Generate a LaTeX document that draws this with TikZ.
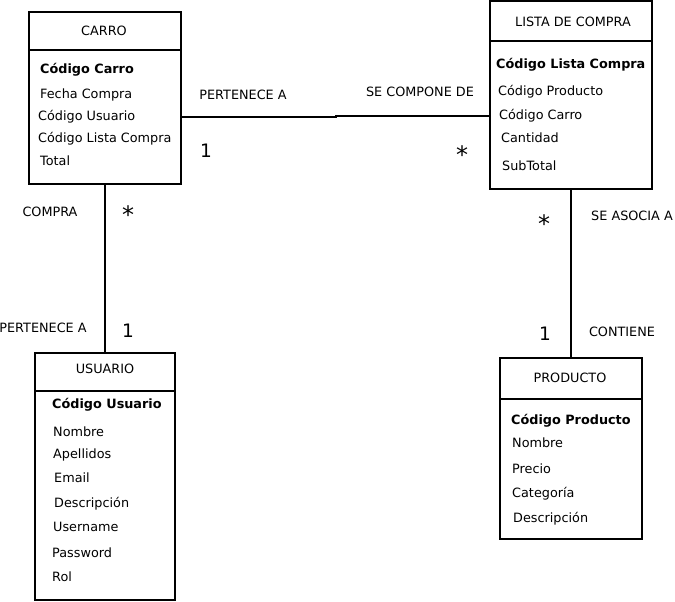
\documentclass[tikz,border=0pt]{standalone}
\usepackage{fontspec}
\setmainfont{DejaVu Sans}
\begin{document}
\begin{tikzpicture}[x=1pt,y=-1pt,
  box/.style={draw,line width=2pt,inner sep=0pt,outer sep=0pt,anchor=north west},
  hdr/.style={font=\fontsize{12.8}{14}\selectfont},
  attr/.style={anchor=base west,inner sep=0pt,yshift=-1pt,font=\fontsize{12.8}{14}\selectfont},
  key/.style={attr,font=\fontsize{12.8}{14}\selectfont\bfseries},
  rel/.style={inner sep=0pt,font=\fontsize{12.8}{14}\selectfont},
  mult/.style={inner sep=0pt,font=\fontsize{18.5}{20}\selectfont},
  star/.style={inner sep=0pt,font=\fontsize{24}{26}\selectfont},
  conn/.style={line width=2pt}]
\useasboundingbox (0,0) rectangle (675,602);
% CARRO
\node[box,minimum width=152pt,minimum height=38pt] (carrohdr) at (29,12) {};
\node[box,minimum width=152pt,minimum height=134pt] (carrobody) at (29,50) {};
\node[hdr] (carrot) at (104,31) {CARRO};
\node[key] (c1) at (40,72.5) {Código Carro};
\node[attr] (c2) at (40,97.5) {Fecha Compra};
\node[attr] (c3) at (38,119.5) {Código Usuario};
\node[attr] (c4) at (38,141.5) {Código Lista Compra};
\node[attr] (c5) at (40,164.5) {Total};
% LISTA DE COMPRA
\node[box,minimum width=162pt,minimum height=40pt] (listahdr) at (490,1) {};
\node[box,minimum width=162pt,minimum height=148pt] (listabody) at (490,41) {};
\node[hdr] (listat) at (573,22) {LISTA DE COMPRA};
\node[key] (l1) at (496,67.5) {Código Lista Compra};
\node[attr] (l2) at (498,94.5) {Código Producto};
\node[attr] (l3) at (499,118.5) {Código Carro};
\node[attr] (l4) at (501,141.5) {Cantidad};
\node[attr] (l5) at (502,169.5) {SubTotal};
% USUARIO
\node[box,minimum width=140pt,minimum height=38pt] (usuhdr) at (35,353) {};
\node[box,minimum width=140pt,minimum height=209pt] (usubody) at (35,391) {};
\node[hdr] (usut) at (105,369) {USUARIO};
\node[key] (u1) at (52,407.5) {Código Usuario};
\node[attr] (u2) at (53,435.5) {Nombre};
\node[attr] (u3) at (53,457.5) {Apellidos};
\node[attr] (u4) at (54,481.5) {Email};
\node[attr] (u5) at (54,506.5) {Descripción};
\node[attr] (u6) at (53,530.5) {Username};
\node[attr] (u7) at (52,556.5) {Password};
\node[attr] (u8) at (52,580.5) {Rol};
% PRODUCTO
\node[box,minimum width=142pt,minimum height=41pt] (prodhdr) at (500,358) {};
\node[box,minimum width=142pt,minimum height=140pt] (prodbody) at (500,399) {};
\node[hdr] (prodt) at (570,378) {PRODUCTO};
\node[key] (p1) at (511,423.5) {Código Producto};
\node[attr] (p2) at (512,446.5) {Nombre};
\node[attr] (p3) at (512,472.5) {Precio};
\node[attr] (p4) at (512,496.5) {Categoría};
\node[attr] (p5) at (513,521.5) {Descripción};
% connectors
\coordinate (k1) at (336,117);
\coordinate (k2) at (336,116);
\coordinate (k3) at (490,116);
\draw[conn] (carrobody.east) -- (k1) -- (k2) -- (k3);
\draw[conn] (carrobody.south) -- (usuhdr.north);
\draw[conn] (listabody.south) -- (prodhdr.north);
% labels
\node[rel] (r1) at (243,95) {PERTENECE A};
\node[rel] (r2) at (420,92) {SE COMPONE DE};
\node[mult] (m1) at (206,151) {1};
\node[star] (m2) at (462,155) {*};
\node[rel] (r3) at (50,212) {COMPRA};
\node[star] (m3) at (128,215) {*};
\node[rel] (r4) at (43,328) {PERTENECE A};
\node[mult] (m4) at (128,331) {1};
\node[star] (m5) at (544,224) {*};
\node[rel] (r5) at (632,216) {SE ASOCIA A};
\node[mult] (m6) at (545,334) {1};
\node[rel] (r6) at (622,332) {CONTIENE};
\end{tikzpicture}
\end{document}
